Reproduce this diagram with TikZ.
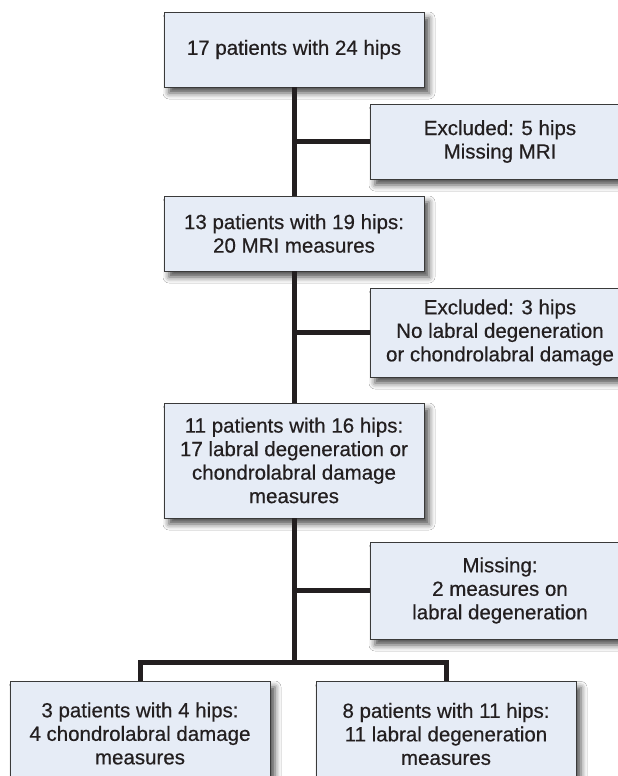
\documentclass[tikz,border=0pt]{standalone}
\usepackage{fontspec}
\setmainfont{Liberation Sans}[BoldFont=Liberation Sans, BoldFeatures={FakeBold=0.5}]
\usetikzlibrary{shadows.blur}
\definecolor{boxfill}{HTML}{E6ECF6}
\definecolor{boxline}{HTML}{3A3A3A}
\definecolor{connline}{HTML}{231F20}
\definecolor{txt}{HTML}{231F20}
\begin{document}
\begin{tikzpicture}[x=1pt,y=1pt,
  box/.style={draw=boxline, line width=0.9pt, fill=boxfill, align=center,
    minimum width=260pt, inner sep=0pt, text=txt,
    font=\fontsize{20.5}{23.5}\selectfont\bfseries,
    blur shadow={shadow xshift=5pt, shadow yshift=-6pt, shadow blur radius=6pt, shadow opacity=70}},
  conn/.style={draw=connline, line width=5pt, line join=miter}]
\useasboundingbox (0,0) rectangle (618,-776);
\clip (0,0) rectangle (618,-776);
\fill[white] (0,0) rectangle (618,-776);
\node[box, minimum height=75pt] (b1) at (294,-49.5) {17 patients with 24 hips};
\node[box, minimum height=75pt] (x1) at (500,-141.5) {Excluded: 5 hips\\Missing MRI};
\node[box, minimum height=75pt] (b2) at (294,-233.5) {13 patients with 19 hips:\\20 MRI measures};
\node[box, minimum height=89pt] (x2) at (500,-332.5) {Excluded: 3 hips\\No labral degeneration\\or chondrolabral damage};
\node[box, minimum height=115pt] (b3) at (294,-460.5) {11 patients with 16 hips:\\17 labral degeneration or\\chondrolabral damage\\measures};
\node[box, minimum height=97pt] (x3) at (500,-590.5) {Missing:\\2 measures on\\labral degeneration};
\node[box, minimum height=105pt] (b4) at (140,-733.5) {3 patients with 4 hips:\\4 chondrolabral damage\\measures};
\node[box, minimum height=105pt] (b5) at (446,-734) {8 patients with 11 hips:\\11 labral degeneration\\measures};
\coordinate (j) at (294,-662);
\draw[conn] (b1.south) -- (b2.north);
\draw[conn] (b2.south) -- (b3.north);
\draw[conn] (b3.south) -- (j);
\draw[conn] (b4.north) |- (j) -| (b5.north);
\draw[conn] (b1.south |- x1.west) -- (x1.west);
\draw[conn] (b2.south |- x2.west) -- (x2.west);
\draw[conn] (b3.south |- x3.west) -- (x3.west);
\end{tikzpicture}
\end{document}
